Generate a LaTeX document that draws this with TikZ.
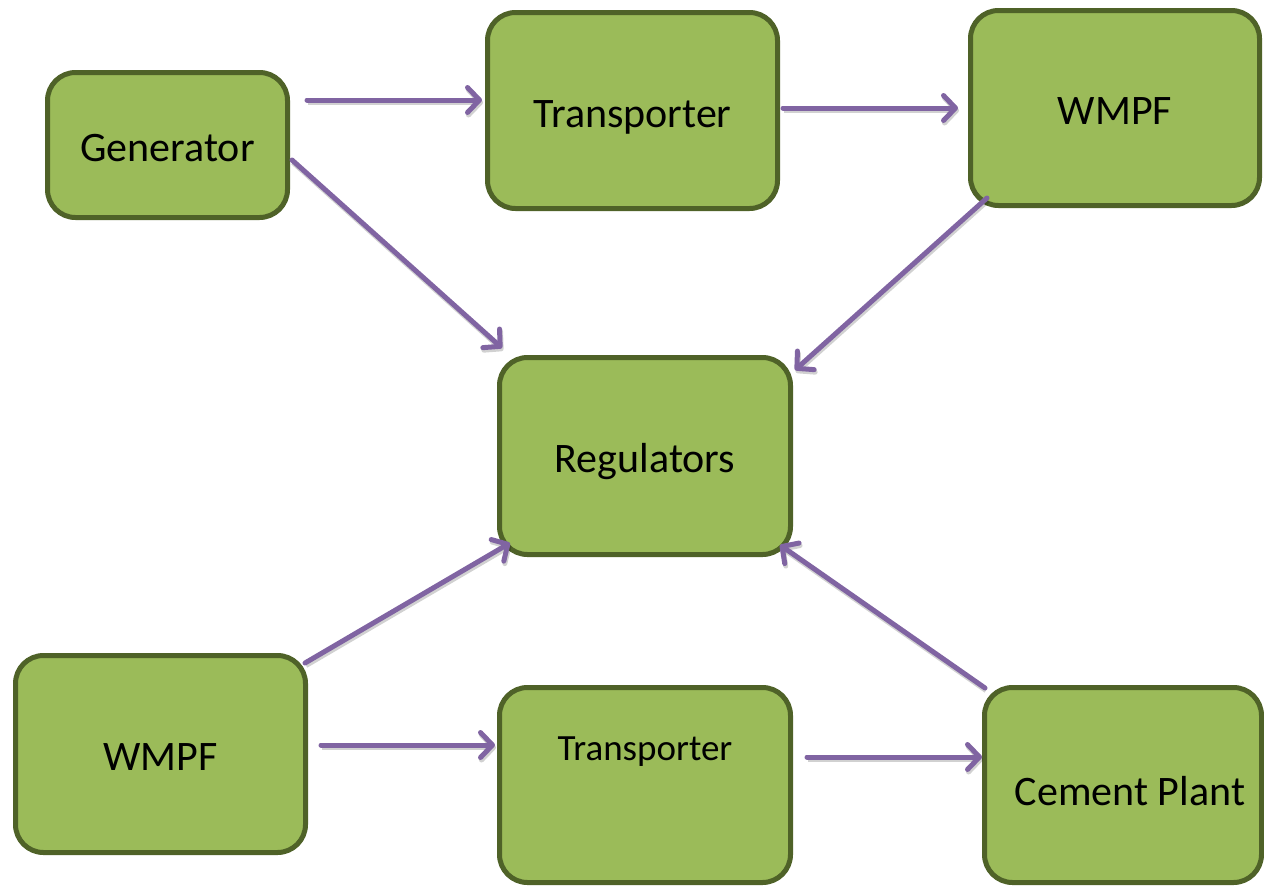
\documentclass[tikz,border=0pt]{standalone}
\usepackage{fontspec}
\setmainfont{Carlito}
\usetikzlibrary{arrows.meta}
\definecolor{boxfill}{HTML}{9BBB59}
\definecolor{boxline}{HTML}{4F6228}
\definecolor{flow}{HTML}{8064A2}
\begin{document}
\begin{tikzpicture}[x=1pt,y=-1pt,
  box/.style={draw=boxline, fill=boxfill, line width=5pt, rounded corners=28pt,
    inner sep=0pt, font=\fontsize{42}{46}\selectfont, text height=33pt, text depth=0pt},
  flowtip/.style={-{Straight Barb[length=12pt,width=25pt,line cap=round,line join=round]}},
  flowarrow/.style={draw=flow, line width=5pt, line cap=round, flowtip,
    preaction={draw=black, draw opacity=0.18, line width=5pt, flowtip,
      transform canvas={shift={(1pt,-2.5pt)}}}}]
\useasboundingbox (0,0) rectangle (1264,887);
% participants
\node[box, minimum width=240pt, minimum height=145pt] (gen) at (167.5,145) {Generator};
\node[box, minimum width=290pt, minimum height=196pt] (ttop) at (632.5,110.5) {Transporter};
\node[box, minimum width=289pt, minimum height=195pt] (wtop) at (1115,108) {WMPF};
\node[box, minimum width=291pt, minimum height=197pt] (reg) at (645,456) {Regulators};
\node[box, minimum width=290pt, minimum height=197pt] (wbot) at (160.5,754) {WMPF};
\node[box, minimum width=291pt, minimum height=195pt,
  label={[font=\fontsize{37}{40}\selectfont, text height=29pt, text depth=0pt,
    yshift=39pt]center:Transporter}] (tbot) at (645,785) {};
\node[box, minimum width=277pt, minimum height=195pt,
  label={[font=\fontsize{42}{46}\selectfont, text height=33pt, text depth=0pt,
    xshift=7pt, yshift=-4pt]center:Cement Plant}] (cem) at (1123,785) {};
% flows
\draw[flowarrow] ([shift={(17,-45)}]gen.east) -- ([shift={(-3,-10.5)}]ttop.west);
\draw[flowarrow] ([shift={(3,-2.5)}]ttop.east) -- ([shift={(-10,0)}]wtop.west);
\draw[flowarrow] ([shift={(2,15)}]gen.east) -- ([shift={(5,-7)}]reg.north west);
\draw[flowarrow] ([shift={(19,-10)}]wtop.south west) -- ([shift={(2,15)}]reg.north east);
\draw[flowarrow] ([shift={(-3,10)}]wbot.north east) -- ([shift={(13,-14)}]reg.south west);
\draw[flowarrow] ([shift={(3,3)}]cem.north west) -- ([shift={(-13,-12)}]reg.south east);
\draw[flowarrow] ([shift={(13,-9)}]wbot.east) -- ([shift={(-2,-40)}]tbot.west);
\draw[flowarrow] ([shift={(14,-28)}]tbot.east) -- ([shift={(0,-28)}]cem.west);
\end{tikzpicture}
\end{document}
